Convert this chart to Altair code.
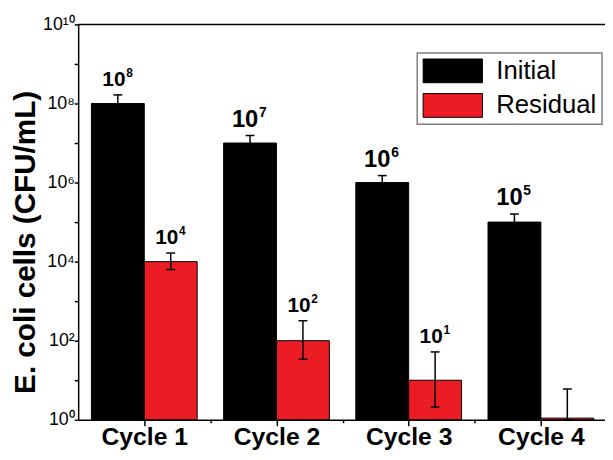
import altair as alt
import pandas as pd

cycles = ["Cycle 1", "Cycle 2", "Cycle 3", "Cycle 4"]
series_names = ["Initial", "Residual"]
colors = ["#000000", "#EC1C24"]

initial = [1e8, 1e7, 1e6, 1e5]
initial_upper = [1.65e8, 1.55e7, 1.5e6, 1.6e5]
initial_lower = [6.0e7, 6.5e6, 6.5e5, 6.2e4]

residual = [1e4, 1e2, 1e1, 1.1]
residual_upper = [1.65e4, 320, 52, 6]
residual_lower = [6.3e3, 34, 2.1, 1]

label_base = "10"
initial_exp = ["8", "7", "6", "5"]
residual_exp = ["4", "2", "1", ""]

y_ticks = [10 ** k for k in range(11)]
superscripts = ["⁰", "¹", "²", "³", "⁴", "⁵", "⁶", "⁷", "⁸", "⁹", "¹⁰"]
x_ticks = [1, 1.5, 2, 2.5, 3, 3.5, 4]
y_title = "E. coli cells (CFU/mL)"

rows = []
for i, c in enumerate(cycles):
    rows.append(dict(cycle=c, n=i + 1, series="Initial", value=initial[i],
                     lo=initial_lower[i], hi=initial_upper[i], exp=initial_exp[i]))
    rows.append(dict(cycle=c, n=i + 1, series="Residual", value=residual[i],
                     lo=residual_lower[i], hi=residual_upper[i], exp=residual_exp[i]))
df = pd.DataFrame(rows)

FONT = "Liberation Sans"
BLACK = "#000000"

xscale = alt.Scale(domain=[0.5, 4.485], nice=False, zero=False)
yscale = alt.Scale(type="log", domain=[1, 1e10], nice=False)

sup_js = "[" + ",".join("'" + s + "'" for s in superscripts) + "]"

xaxis = alt.Axis(
    values=x_ticks,
    labelExpr="datum.value % 1 == 0 ? 'Cycle ' + datum.value : ''",
    tickSize={"condition": {"test": "datum.value % 1 == 0", "value": 6}, "value": 3},
    tickWidth=1.5, tickColor=BLACK, domainColor=BLACK, domainWidth=1.5,
    labelFont=FONT, labelFontSize=25, labelFontWeight="bold", labelColor=BLACK,
    labelPadding=-1, labelOverlap=False, labelFlush=False, grid=False, title=None,
)
yaxis = alt.Axis(
    values=y_ticks,
    labelExpr="(round(log(datum.value)/LN10) % 2 == 0) ? '10' + " + sup_js + "[round(log(datum.value)/LN10)] : ''",
    tickSize=4, tickWidth=1.5, tickColor=BLACK, domainColor=BLACK, domainWidth=1.5,
    labelFont=FONT, labelFontSize=18, labelColor=BLACK, labelBaseline="middle",
    labelPadding=0, labelOverlap=False, labelFlush=False, grid=False,
    title=y_title, titleFont=FONT, titleFontSize=30, titleFontWeight="bold",
    titleColor=BLACK, titleX=-38, titleY=220, titleAngle=270,
    titleAlign="center", titleBaseline="bottom",
)

base = alt.Chart(df).transform_calculate(
    x0="datum.n + (datum.series == 'Initial' ? -0.4 : 0)"
).transform_calculate(
    x1="datum.x0 + 0.4", xc="datum.x0 + 0.2"
)

bars = base.mark_rect(stroke=BLACK, strokeWidth=1).encode(
    x=alt.X("x0:Q", scale=xscale, axis=xaxis),
    x2="x1:Q",
    y=alt.Y("value:Q", scale=yscale, axis=yaxis),
    y2=alt.datum(1),
    color=alt.Color(
        "series:N",
        scale=alt.Scale(domain=series_names, range=colors),
        legend=alt.Legend(
            title=None, orient="none", legendX=343, legendY=29, direction="vertical",
            symbolType="M-2.5,-1H2.5V1H-2.5Z", symbolSize=576, symbolOffset=18,
            symbolStrokeColor=BLACK, symbolStrokeWidth=1, symbolOpacity=1,
            labelFont=FONT, labelFontSize=26, labelColor=BLACK, labelOffset=31,
            padding=5, fillColor="#ffffff", strokeColor="#808080", rowPadding=7,
        ),
    ),
)

err = base.mark_rule(color=BLACK, strokeWidth=1.5).encode(
    x=alt.X("xc:Q", scale=xscale, axis=xaxis),
    y=alt.Y("lo:Q", scale=yscale, axis=yaxis),
    y2="hi:Q",
)
cap_hi = base.mark_tick(orient="horizontal", size=9, thickness=1.5, color=BLACK, opacity=1).encode(
    x=alt.X("xc:Q", scale=xscale, axis=xaxis),
    y=alt.Y("hi:Q", scale=yscale, axis=yaxis),
)
cap_lo = base.mark_tick(orient="horizontal", size=9, thickness=1.5, color=BLACK, opacity=1).encode(
    x=alt.X("xc:Q", scale=xscale, axis=xaxis),
    y=alt.Y("lo:Q", scale=yscale, axis=yaxis),
)

big = "datum.series == 'Initial' && datum.n > 1"
small = "datum.exp != '' && !(datum.series == 'Initial' && datum.n > 1)"

def label_layers(test, fs, es, dx_base, dx_exp, dy_exp):
    src = base.transform_filter(test)
    enc = dict(x=alt.X("xc:Q", scale=xscale, axis=xaxis),
               y=alt.Y("hi:Q", scale=yscale, axis=yaxis))
    t1 = src.mark_text(font=FONT, fontWeight="bold", fontSize=fs, align="center",
                       baseline="alphabetic", dx=dx_base, dy=-9, color=BLACK).encode(
        text=alt.value(label_base), **enc)
    t2 = src.mark_text(font=FONT, fontWeight="bold", fontSize=es, align="left",
                       baseline="alphabetic", dx=dx_exp, dy=dy_exp, color=BLACK).encode(
        text="exp:N", **enc)
    return [t1, t2]

labels = label_layers(big, 24, 14, -5, 9, -19) + label_layers(small, 21, 12, -4, 8.5, -18)

top = alt.Chart(pd.DataFrame({"v": [1e10]})).mark_rule(color=BLACK, strokeWidth=1.5).encode(
    y=alt.Y("v:Q", scale=yscale, axis=yaxis)
)

chart = alt.layer(bars, err, cap_hi, cap_lo, *labels, top).properties(
    width=533, height=400,
    padding={"left": 71, "top": 14, "right": 0, "bottom": 30},
    autosize="none",
).configure_view(stroke=None).configure_legend(strokeWidth=1.5)

chart.save("out.html", embed_options={"renderer": "svg", "actions": False})
